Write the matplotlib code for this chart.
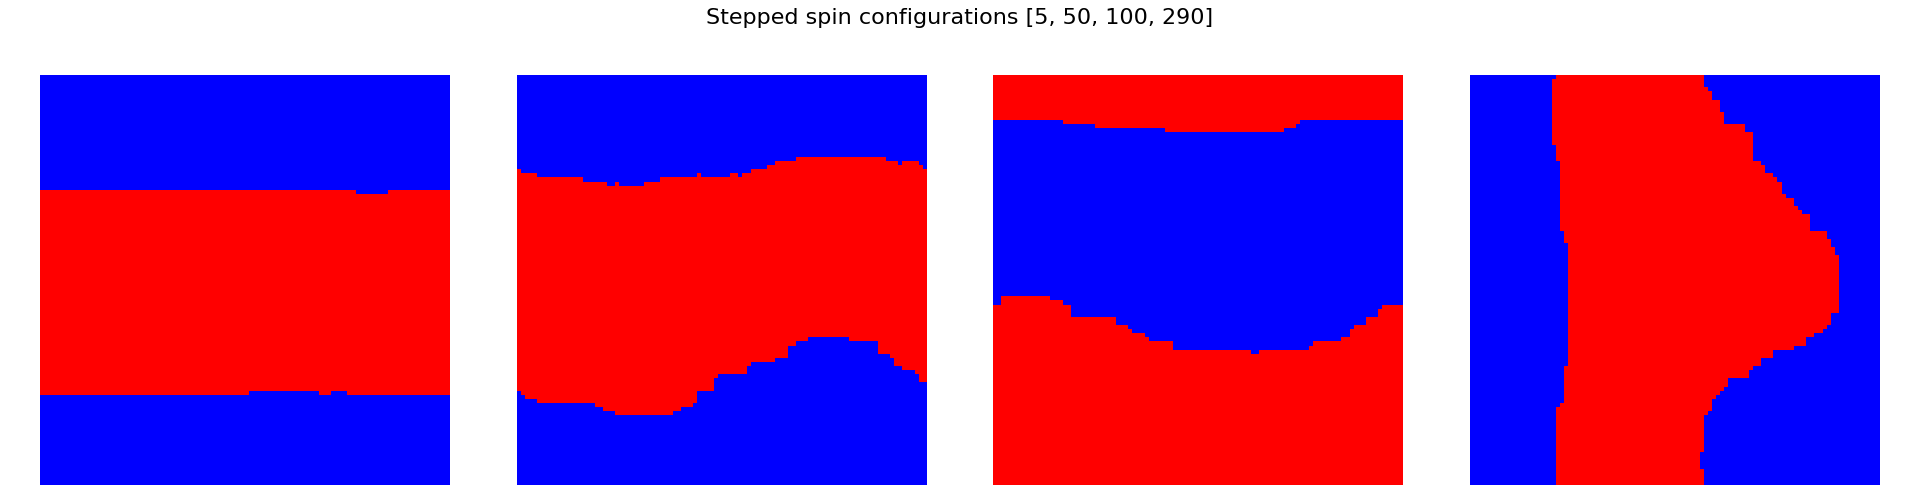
"""Stepped spin configurations: four snapshots of a 100x100 Ising lattice.

Domain walls are stored as step lists (start index, wall position) read off
the reference picture; the lattice is rebuilt from them and drawn with imshow.
"""

import numpy as np
import matplotlib
matplotlib.use("Agg")
import matplotlib.pyplot as plt

N = 100
steps = [5, 50, 100, 290]

# ---------------------------------------------------------------------------
# Panel 1 (step 5): horizontal +1 band, walls per column
# ---------------------------------------------------------------------------
p1_top_cols = [0, 77, 85]
p1_top_rows = [28, 29, 28]
p1_bot_cols = [0, 51, 68, 71, 75]
p1_bot_rows = [78, 77, 78, 77, 78]

# ---------------------------------------------------------------------------
# Panel 2 (step 50): wavy +1 band, walls per column
# ---------------------------------------------------------------------------
p2_top_cols = [0, 1, 5, 16, 22, 24, 25, 31, 35, 44, 45, 52, 54, 55, 57, 61,
               63, 68, 90, 93, 94, 98, 99]
p2_top_rows = [23, 24, 25, 26, 27, 26, 27, 26, 25, 24, 25, 24, 25, 24, 23, 22,
               21, 20, 21, 22, 21, 22, 23]
p2_bot_cols = [0, 1, 2, 5, 19, 21, 24, 38, 40, 43, 44, 48, 49, 56, 57, 63,
               66, 68, 71, 81, 88, 91, 92, 94, 97, 98]
p2_bot_rows = [77, 78, 79, 80, 81, 82, 83, 82, 81, 80, 77, 74, 73, 71, 70, 69,
               66, 65, 64, 65, 68, 69, 71, 72, 73, 75]

# ---------------------------------------------------------------------------
# Panel 3 (step 100): -1 band between two +1 regions, walls per column
# ---------------------------------------------------------------------------
p3_top_cols = [0, 17, 25, 42, 71, 74, 75]
p3_top_rows = [11, 12, 13, 14, 13, 12, 11]
p3_bot_cols = [0, 2, 14, 17, 19, 30, 33, 34, 37, 38, 44, 63, 65, 77, 78, 85,
               87, 88, 91, 94, 95]
p3_bot_rows = [56, 54, 55, 56, 59, 61, 62, 63, 64, 65, 67, 68, 67, 66, 65, 64,
               62, 61, 59, 57, 56]

# ---------------------------------------------------------------------------
# Panel 4 (step 290): vertical +1 band, walls per row
# ---------------------------------------------------------------------------
p4_left_rows = [0, 1, 17, 21, 38, 41, 71, 80, 81]
p4_left_cols = [21, 20, 21, 22, 23, 24, 23, 22, 21]
p4_right_rows = [0, 3, 4, 6, 9, 12, 14, 21, 22, 24, 25, 26, 29, 30, 32, 33,
                 34, 38, 40, 42, 44, 58, 61, 62, 63, 64, 66, 67, 69, 71, 72,
                 74, 76, 77, 78, 79, 82, 83, 92, 96]
p4_right_cols = [57, 58, 59, 61, 62, 67, 69, 71, 72, 74, 75, 76, 77, 79, 80, 81,
                 83, 87, 88, 89, 90, 88, 87, 86, 84, 82, 79, 74, 71, 69, 68,
                 63, 62, 61, 60, 59, 58, 57, 56, 57]


def expand(starts, values):
    """Turn a step list into one value per lattice line."""
    lengths = np.diff(list(starts) + [N])
    return np.repeat(values, lengths)


def band(lo, hi, inside, outside, vertical=False):
    idx = np.arange(N)[:, None]
    mask = (idx >= lo[None, :]) & (idx < hi[None, :])
    grid = np.where(mask, inside, outside)
    return grid.T if vertical else grid


configs = [
    band(expand(p1_top_cols, p1_top_rows), expand(p1_bot_cols, p1_bot_rows), 1, -1),
    band(expand(p2_top_cols, p2_top_rows), expand(p2_bot_cols, p2_bot_rows), 1, -1),
    band(expand(p3_top_cols, p3_top_rows), expand(p3_bot_cols, p3_bot_rows), -1, 1),
    band(expand(p4_left_rows, p4_left_cols), expand(p4_right_rows, p4_right_cols),
         1, -1, vertical=True),
]


def main():
    fig, axes = plt.subplots(1, 4, figsize=(19.2, 5), dpi=100)
    fig.subplots_adjust(left=40 / 1920, right=1880 / 1920, bottom=0.03,
                        top=0.85, wspace=0.163)

    for ax, spins in zip(axes, configs):
        ax.imshow(spins, cmap="bwr", vmin=-1, vmax=1, interpolation="nearest")
        ax.axis("off")

    fig.suptitle(f"Stepped spin configurations {steps}", fontsize=16,
                 y=1 - 18 / 500, va="center")
    fig.savefig("out.png", dpi=100)
    plt.close(fig)


if __name__ == "__main__":
    main()
